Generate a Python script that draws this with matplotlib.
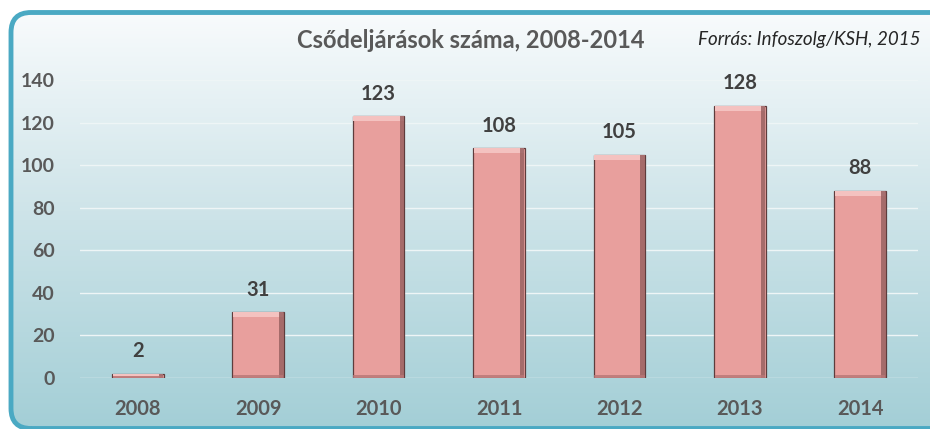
import numpy as np
import matplotlib.pyplot as plt
from matplotlib.patches import FancyBboxPatch
import matplotlib

matplotlib.rcParams['font.family'] = ['Lato', 'DejaVu Sans']

years = ["2008", "2009", "2010", "2011", "2012", "2013", "2014"]
counts = [2, 31, 123, 108, 105, 128, 88]
yticks = [0, 20, 40, 60, 80, 100, 120, 140]

TITLE = "Csődeljárások száma, 2008-2014"
SOURCE = "Forrás: Infoszolg/KSH, 2015"

W, H = 930, 429
fig = plt.figure(figsize=(W / 100, H / 100), dpi=100)
fig.patch.set_facecolor("white")

# background panel with gradient and rounded teal border
bg = fig.add_axes([0, 0, 1, 1], zorder=0)
bg.set_xlim(0, W)
bg.set_ylim(0, H)
bg.axis("off")
grad = np.linspace(0, 1, 256).reshape(-1, 1)
top_c = np.array([0.975, 0.985, 0.99])
mid_c = np.array([0.80, 0.89, 0.91])
bot_c = np.array([0.64, 0.81, 0.84])
rgb = np.where(grad < 0.5, top_c + (mid_c - top_c) * grad * 2,
               mid_c + (bot_c - mid_c) * (grad - 0.5) * 2)
img = bg.imshow(rgb.reshape(256, 1, 3), extent=[10, 940, 0, 418], aspect="auto",
                origin="upper", zorder=0)
box = FancyBboxPatch((11, 0.5), 940, 416, boxstyle="round,pad=0,rounding_size=20",
                     facecolor="none", edgecolor="#4aa9c3", linewidth=3.5, zorder=2)
bg.add_patch(box)
img.set_clip_path(box)

ax = fig.add_axes([80 / W, 51 / H, 838 / W, 298 / H], zorder=1)
ax.patch.set_alpha(0)
x = np.arange(len(years))
bw = 0.43

ax.bar(x, counts, width=bw, color="#e89f9d", edgecolor="#5e3c3c", linewidth=0.9, zorder=3)
# bevel: light top strip, dark right shadow, darker bottom strip
tops = np.array(counts, dtype=float)
hl = np.minimum(2.4, tops * 0.5)
ax.bar(x, hl, bottom=tops - hl, width=bw - 0.012, color="#f4c2c0", linewidth=0, zorder=4)
ax.bar(x + bw / 2 - 0.022, tops, width=0.036, color="#9a6262", linewidth=0, zorder=4, alpha=0.85)
ax.bar(x, np.minimum(1.5, tops * 0.4), width=bw - 0.012, color="#b87676", linewidth=0, zorder=4, alpha=0.8)

for xi, v in zip(x, counts):
    ax.annotate(str(v), (xi, v), xytext=(0, 9), textcoords="offset points",
                ha="center", va="bottom", fontsize=14.5, fontweight="bold", color="#404040")

ax.set_xlim(-0.48, len(years) - 0.52)
ax.set_ylim(0, 140)
ax.set_yticks(yticks)
ax.set_xticks(x)
ax.set_xticklabels(years)
ax.grid(axis="y", color="#eef5f6", linewidth=1.0, zorder=1)
ax.set_axisbelow(True)
for s in ax.spines.values():
    s.set_visible(False)
ax.tick_params(axis="y", length=0, pad=18, labelsize=14, labelcolor="#595959")
ax.tick_params(axis="x", length=0, pad=15, labelsize=14.5, labelcolor="#595959")
for lab in ax.get_xticklabels() + ax.get_yticklabels():
    lab.set_fontweight("bold")

fig.text(471 / W, 1 - 40 / H, TITLE, ha="center", va="center", fontsize=17,
         fontweight="bold", color="#595959")
fig.text(920 / W, 1 - 39 / H, SOURCE, ha="right", va="center", fontsize=13.5,
         style="italic", color="#262626")

fig.savefig("out.png", dpi=100)
